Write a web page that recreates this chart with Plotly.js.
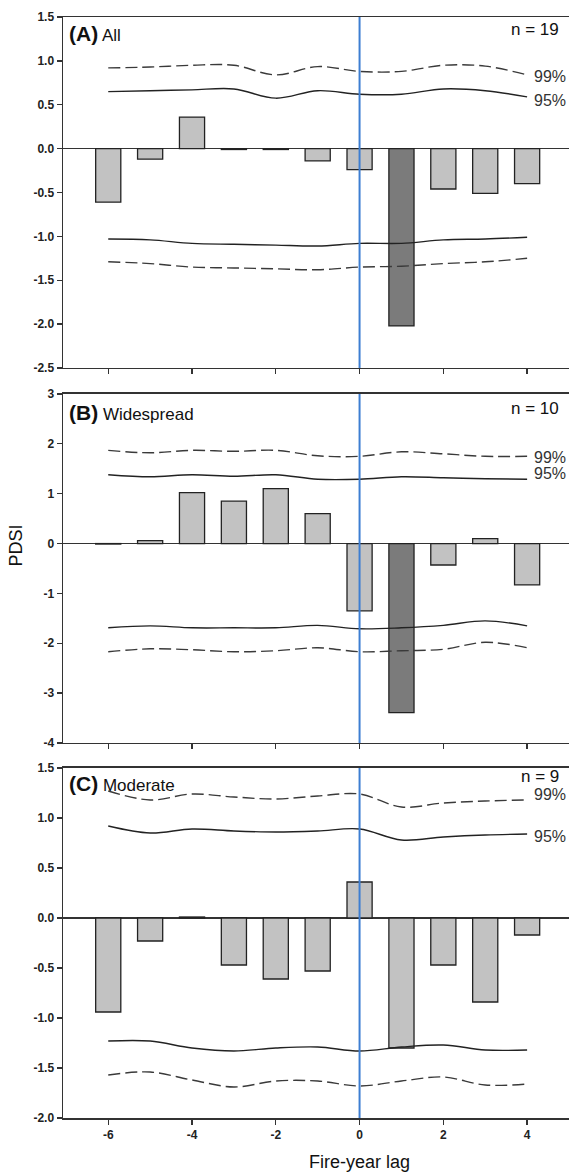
<!DOCTYPE html>
<html>
<head>
<meta charset="utf-8">
<script src="https://cdn.plot.ly/plotly-3.0.1.min.js"></script>
<style>html,body{margin:0;padding:0;background:#fff;}#chart{width:569px;height:1172px;}</style>
</head>
<body>
<div id="chart"></div>
<script>
const lags = [-6, -5, -4, -3, -2, -1, 0, 1, 2, 3, 4];
const xTicks = [-6, -4, -2, 0, 2, 4];

// Panel A: All (n = 19)
const barsA   = [-0.61, -0.12, 0.36, -0.01, -0.01, -0.14, -0.24, -2.02, -0.46, -0.51, -0.40];
const up99A   = [0.92, 0.93, 0.95, 0.95, 0.84, 0.935, 0.88, 0.88, 0.95, 0.94, 0.84];
const up95A   = [0.65, 0.66, 0.67, 0.68, 0.575, 0.66, 0.62, 0.62, 0.68, 0.66, 0.59];
const lo95A   = [-1.03, -1.04, -1.08, -1.09, -1.10, -1.11, -1.08, -1.08, -1.04, -1.03, -1.01];
const lo99A   = [-1.29, -1.31, -1.35, -1.36, -1.37, -1.38, -1.35, -1.34, -1.31, -1.29, -1.25];

// Panel B: Widespread (n = 10)
const barsB   = [-0.01, 0.06, 1.02, 0.85, 1.10, 0.60, -1.35, -3.39, -0.43, 0.10, -0.83];
const up99B   = [1.87, 1.82, 1.87, 1.85, 1.87, 1.76, 1.75, 1.84, 1.80, 1.75, 1.75];
const up95B   = [1.38, 1.34, 1.38, 1.35, 1.38, 1.29, 1.29, 1.34, 1.32, 1.30, 1.29];
const lo95B   = [-1.69, -1.65, -1.69, -1.69, -1.69, -1.64, -1.71, -1.69, -1.64, -1.55, -1.65];
const lo99B   = [-2.17, -2.11, -2.13, -2.17, -2.15, -2.09, -2.17, -2.15, -2.12, -1.98, -2.09];

// Panel C: Moderate (n = 9)
const barsC   = [-0.94, -0.23, 0.01, -0.47, -0.61, -0.53, 0.36, -1.30, -0.47, -0.84, -0.17];
const up99C   = [1.27, 1.18, 1.24, 1.21, 1.19, 1.22, 1.24, 1.11, 1.15, 1.17, 1.18];
const up95C   = [0.92, 0.85, 0.89, 0.87, 0.86, 0.87, 0.89, 0.78, 0.81, 0.83, 0.84];
const lo95C   = [-1.23, -1.23, -1.30, -1.33, -1.30, -1.29, -1.33, -1.29, -1.27, -1.32, -1.32];
const lo99C   = [-1.57, -1.54, -1.62, -1.69, -1.63, -1.63, -1.68, -1.63, -1.59, -1.67, -1.66];

const panelNames = ['(A)', '(B)', '(C)'];
const panelLabels = ['All', 'Widespread', 'Moderate'];
const panelN = ['n = 19', 'n = 10', 'n = 9'];
const significantLag = [[1], [1], []];
const yTicksA = [1.5, 1.0, 0.5, 0.0, -0.5, -1.0, -1.5, -2.0, -2.5];
const yTicksB = [3, 2, 1, 0, -1, -2, -3, -4];
const yTicksC = [1.5, 1.0, 0.5, 0.0, -0.5, -1.0, -1.5, -2.0];

const panels = [
  {bars: barsA, u99: up99A, u95: up95A, l95: lo95A, l99: lo99A, range: [-2.5, 1.5], ticks: yTicksA, dec: 1,
   dom: [0.6812, 1], lab99: 0.82, lab95: 0.545, labY: 0.954, nY: 0.963},
  {bars: barsB, u99: up99B, u95: up95B, l95: lo95B, l99: lo99B, range: [-4, 3], ticks: yTicksB, dec: 0,
   dom: [0.3406, 0.6576], lab99: 1.73, lab95: 1.40, labY: 0.948, nY: 0.957},
  {bars: barsC, u99: up99C, u95: up95C, l95: lo95C, l99: lo99C, range: [-2.0, 1.5], ticks: yTicksC, dec: 1,
   dom: [0, 0.3179], lab99: 1.235, lab95: 0.81, labY: 0.957, nY: 0.977}
];

const FONT = 'Liberation Sans, Arial, sans-serif';
const AX = '#333';
const traces = [];
const shapes = [];
const annotations = [];
const layout = {
  width: 569, height: 1172,
  margin: {l: 63, r: 0, t: 17, b: 54},
  paper_bgcolor: '#fff', plot_bgcolor: '#fff',
  showlegend: false,
  font: {family: FONT, color: '#222'},
  bargap: 0
};

panels.forEach((p, i) => {
  const sfx = i === 0 ? '' : String(i + 1);
  const xa = 'x' + sfx, ya = 'y' + sfx;
  const colors = lags.map(l => significantLag[i].includes(l) ? '#7b7b7b' : '#c2c2c2');
  traces.push({
    type: 'bar', x: lags, y: p.bars, xaxis: xa, yaxis: ya, width: 0.6,
    marker: {color: colors, line: {color: '#222', width: 1.3}}, hoverinfo: 'x+y'
  });
  const lineDefs = [
    [p.u99, 'dash'], [p.u95, 'solid'], [p.l95, 'solid'], [p.l99, 'dash']
  ];
  lineDefs.forEach(([vals, d]) => {
    traces.push({
      type: 'scatter', mode: 'lines', x: lags, y: vals, xaxis: xa, yaxis: ya,
      line: {color: d === 'dash' ? '#3a3a3a' : '#222', width: 1.4, shape: 'spline', smoothing: 1,
             dash: d === 'dash' ? '12px,5px' : 'solid'},
      hoverinfo: 'skip'
    });
  });
  layout['xaxis' + sfx] = {
    anchor: ya, range: [-7.08, 5.0], tickvals: xTicks, ticktext: xTicks.map(v => String(v)),
    showticklabels: i === 2, ticks: 'outside', ticklen: 5, tickwidth: 1.3, tickcolor: AX,
    showline: true, mirror: true, linecolor: AX, linewidth: 1.5, showgrid: false, zeroline: false,
    tickfont: {family: FONT, size: 12, color: '#222', weight: 'bold'}, fixedrange: true
  };
  layout['yaxis' + sfx] = {
    anchor: xa, domain: p.dom, range: p.range, tickvals: p.ticks,
    ticktext: p.ticks.map(v => v.toFixed(p.dec)),
    ticks: 'outside', ticklen: 5, tickwidth: 1.3, tickcolor: AX,
    showline: true, mirror: false, linecolor: AX, linewidth: 1.5, showgrid: false,
    zeroline: true, zerolinecolor: '#333', zerolinewidth: 1.5,
    tickfont: {family: FONT, size: 12, color: '#222', weight: 'bold'}, fixedrange: true
  };
  shapes.push({type: 'line', xref: xa, yref: ya + ' domain', x0: 0, x1: 0, y0: 0, y1: 1,
               line: {color: '#3d7ed2', width: 2}, layer: 'above'});
  annotations.push({
    xref: xa + ' domain', yref: ya + ' domain', x: 0.008, y: p.labY, xanchor: 'left', yanchor: 'middle',
    showarrow: false, text: '<span style="font-size:21px"><b>' + panelNames[i] + '</b></span> ' + panelLabels[i],
    font: {family: FONT, size: 17, color: '#111'}
  });
  annotations.push({
    xref: xa + ' domain', yref: ya + ' domain', x: 0.984, y: p.nY, xanchor: 'right', yanchor: 'middle',
    showarrow: false, text: panelN[i], font: {family: FONT, size: 17, color: '#111'}
  });
  annotations.push({
    xref: xa, yref: ya, x: 4.12, y: p.lab99, xanchor: 'left', yanchor: 'middle',
    showarrow: false, text: '99%', font: {family: FONT, size: 16, color: '#333'}
  });
  annotations.push({
    xref: xa, yref: ya, x: 4.12, y: p.lab95, xanchor: 'left', yanchor: 'middle',
    showarrow: false, text: '95%', font: {family: FONT, size: 16, color: '#333'}
  });
});

annotations.push({
  xref: 'paper', yref: 'paper', x: -0.091, y: 0.52, textangle: -90, xanchor: 'center', yanchor: 'middle',
  showarrow: false, text: 'PDSI', font: {family: FONT, size: 18, color: '#111'}
});
annotations.push({
  xref: 'x3', yref: 'paper', x: 0, y: -0.04, xanchor: 'center', yanchor: 'middle',
  showarrow: false, text: 'Fire-year lag', font: {family: FONT, size: 18, color: '#111'}
});

layout.shapes = shapes;
layout.annotations = annotations;

Plotly.newPlot('chart', traces, layout, {displayModeBar: false, staticPlot: true});
</script>
</body>
</html>
